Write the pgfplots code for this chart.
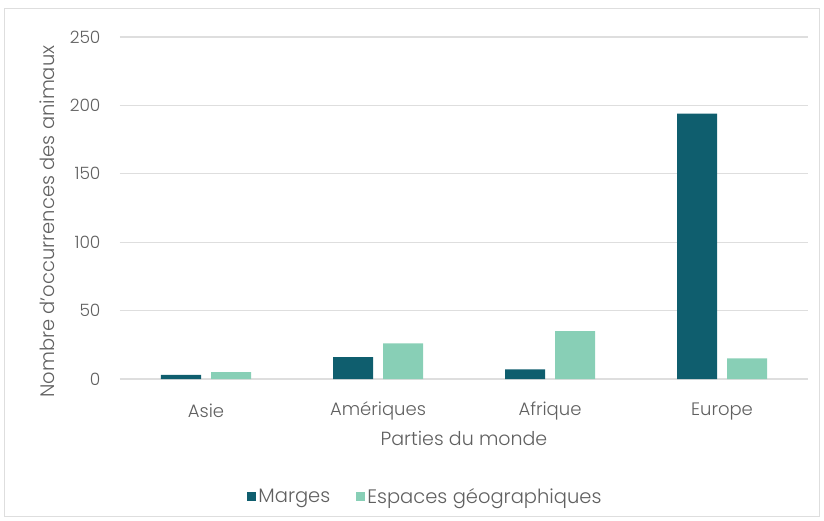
\documentclass[border=0pt]{standalone}
\usepackage{pgfplots}
\pgfplotsset{compat=1.18}
\usepackage{fontspec}
\setmainfont{Poppins}[UprightFont=* Light]
\definecolor{marges}{HTML}{0F5E6E}
\definecolor{espaces}{HTML}{88CFB6}
\definecolor{txt}{HTML}{606060}
\definecolor{gridc}{HTML}{DEDEDE}
\begin{document}
\begin{tikzpicture}[x=1pt,y=1pt]
\draw[gridc, line width=1pt] (-115,-137) rectangle (699,370);
\begin{axis}[
  scale only axis, width=688pt, height=342pt,
  at={(0,0)}, anchor=south west,
  ybar=10pt, bar width=40pt,
  xmin=-0.5, xmax=3.5, ymin=0, ymax=250,
  ytick={0,50,...,250},
  xtick=data,
  xticklabels={Asie,Amériques,Afrique,Europe},
  axis line style={draw=none},
  xmajorgrids=false,
  ymajorgrids, grid style={gridc, line width=1.3pt},
  major tick style={draw=none},
  yticklabel style={font=\fontsize{17}{19}\selectfont, text=txt, anchor=east, xshift=-16pt},
  xticklabel style={font=\fontsize{18}{20}\selectfont, text=txt, anchor=center, yshift=-28pt},
  /pgf/number format/assume math mode=true,
  xlabel={Parties du monde},
  ylabel={Nombre d'occurrences des animaux},
  xlabel style={font=\fontsize{19}{21}\selectfont, text=txt, at={(axis description cs:0.5,-0.1725)}, anchor=center},
  ylabel style={font=\fontsize{19.5}{21}\selectfont, text=txt, at={(axis description cs:-0.106,0.46)}, anchor=center},
  legend style={at={(0.444,-0.345)}, anchor=center, draw=none, legend columns=2,
    font=\fontsize{19.5}{21}\selectfont, text=txt,
    /tikz/every even column/.append style={column sep=24pt}},
  legend image code/.code={\fill[#1] (0pt,-4.5pt) rectangle (9pt,4.5pt);},
]
\addplot[fill=marges, draw=none] coordinates {(0,3) (1,16) (2,7) (3,194)};
\addplot[fill=espaces, draw=none] coordinates {(0,5) (1,26) (2,35) (3,15)};
\legend{Marges, Espaces géographiques}
\end{axis}
\path[use as bounding box] (-120,-141) rectangle (704,379);
\end{tikzpicture}
\end{document}
